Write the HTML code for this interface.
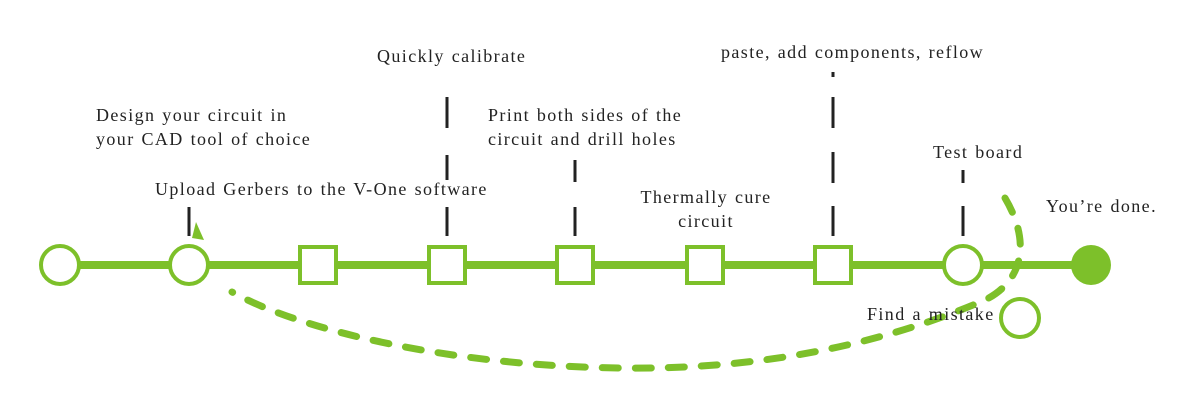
<!DOCTYPE html>
<html><head><meta charset="utf-8"><style>
body{margin:0;background:#fff}
svg text{font-family:"Liberation Serif",serif;font-size:18px;letter-spacing:1.4px;word-spacing:1px;fill:#222}
</style></head><body>
<svg width="1200" height="400" viewBox="0 0 1200 400" xmlns="http://www.w3.org/2000/svg">
<g stroke="#222" stroke-width="3">
<line x1="189" y1="207" x2="189" y2="236"/>
<line x1="447" y1="97" x2="447" y2="128"/>
<line x1="447" y1="155" x2="447" y2="180"/>
<line x1="447" y1="207" x2="447" y2="236"/>
<line x1="575" y1="160" x2="575" y2="182"/>
<line x1="575" y1="207" x2="575" y2="236"/>
<line x1="833" y1="72" x2="833" y2="77"/>
<line x1="833" y1="97" x2="833" y2="128"/>
<line x1="833" y1="152" x2="833" y2="183"/>
<line x1="833" y1="206" x2="833" y2="236"/>
<line x1="963" y1="170" x2="963" y2="183"/>
<line x1="963" y1="206" x2="963" y2="236"/>
</g>
<line x1="60" y1="265" x2="1091" y2="265" stroke="#7dc02a" stroke-width="8"/>
<path d="M1005,198 C1030,240 1025,280 985,300 C880,345 760,370 620,368 C450,366 300,330 232,292" fill="none" stroke="#7dc02a" stroke-width="7" stroke-dasharray="16,17" stroke-linecap="round"/>
<polygon points="196,222 204,240 192,238" fill="#7dc02a"/>
<g fill="#fff" stroke="#7dc02a" stroke-width="4">
<circle cx="60" cy="265" r="19"/>
<circle cx="189" cy="265" r="19"/>
<rect x="300" y="247" width="36" height="36"/>
<rect x="429" y="247" width="36" height="36"/>
<rect x="557" y="247" width="36" height="36"/>
<rect x="687" y="247" width="36" height="36"/>
<rect x="815" y="247" width="36" height="36"/>
<circle cx="963" cy="265" r="19"/>
<circle cx="1020" cy="318" r="19"/>
</g>
<circle cx="1091" cy="265" r="20" fill="#7dc02a"/>
<text x="377" y="62">Quickly calibrate</text>
<text x="721" y="58">paste, add components, reflow</text>
<text x="96" y="121">Design your circuit in</text>
<text x="96" y="145">your CAD tool of choice</text>
<text x="488" y="121">Print both sides of the</text>
<text x="488" y="145">circuit and drill holes</text>
<text x="155" y="195">Upload Gerbers to the V-One software</text>
<text x="933" y="158">Test board</text>
<text x="706" y="203" text-anchor="middle">Thermally cure</text>
<text x="706" y="227" text-anchor="middle">circuit</text>
<text x="1046" y="212">You’re done.</text>
<text x="867" y="320">Find a mistake</text>
</svg>
</body></html>
